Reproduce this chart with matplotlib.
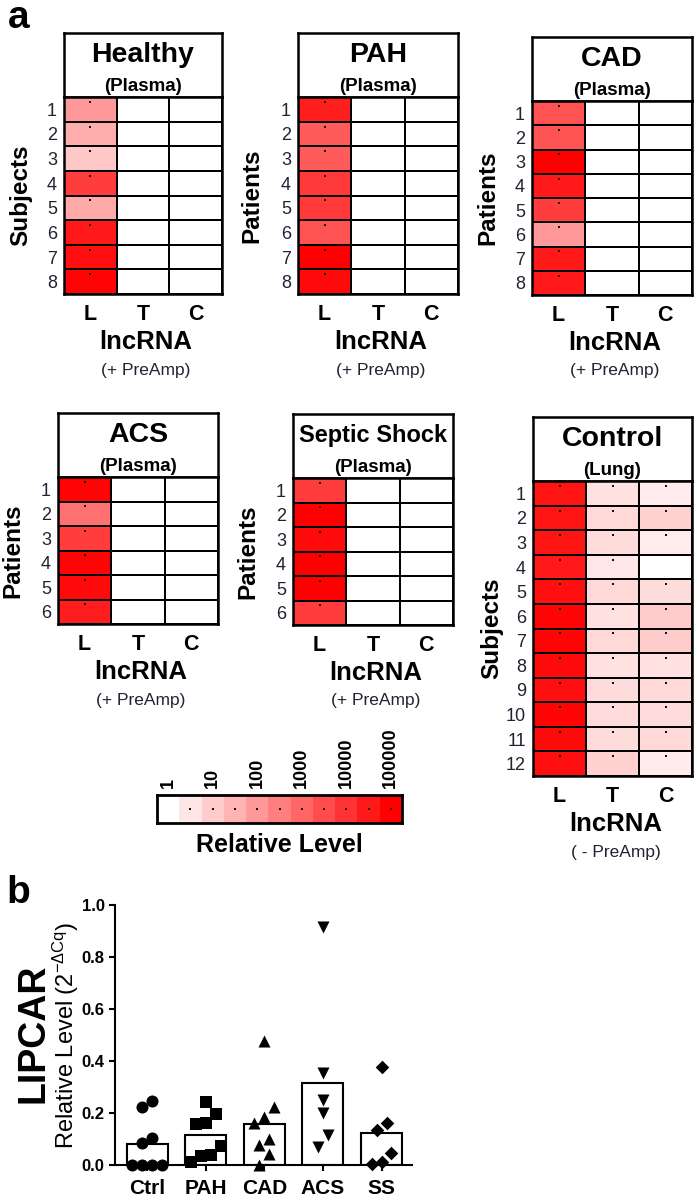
import numpy as np
import matplotlib
matplotlib.use('Agg')
import matplotlib.pyplot as plt
from matplotlib.colors import LinearSegmentedColormap, LogNorm

plt.rcParams['font.family'] = ['Liberation Sans', 'DejaVu Sans']
plt.rcParams['mathtext.fontset'] = 'custom'
plt.rcParams['mathtext.rm'] = 'Liberation Sans'
plt.rcParams['mathtext.it'] = 'Liberation Sans'
plt.rcParams['mathtext.bf'] = 'Liberation Sans:bold'

# ---------------- data: panel a (relative levels, 1 = not detected) ----------------
lnc_cols = ['L', 'T', 'C']

healthy_L = [100, 40, 12, 6300, 50, 32000, 50000, 80000]
healthy_T = [1, 1, 1, 1, 1, 1, 1, 1]
healthy_C = [1, 1, 1, 1, 1, 1, 1, 1]

pah_L = [25000, 1600, 1600, 8000, 8000, 2500, 100000, 63000]
pah_T = [1, 1, 1, 1, 1, 1, 1, 1]
pah_C = [1, 1, 1, 1, 1, 1, 1, 1]

cad_L = [2500, 2500, 100000, 32000, 6300, 100, 32000, 32000]
cad_T = [1, 1, 1, 1, 1, 1, 1, 1]
cad_C = [1, 1, 1, 1, 1, 1, 1, 1]

acs_L = [80000, 630, 6300, 80000, 63000, 25000]
acs_T = [1, 1, 1, 1, 1, 1]
acs_C = [1, 1, 1, 1, 1, 1]

septic_L = [6300, 100000, 63000, 100000, 100000, 6300]
septic_T = [1, 1, 1, 1, 1, 1]
septic_C = [1, 1, 1, 1, 1, 1]

control_L = [40000, 40000, 40000, 32000, 50000, 80000, 80000, 63000, 50000, 80000, 63000, 50000]
control_T = [4, 6, 5, 3, 6, 4, 6, 4, 5, 5, 5, 8]
control_C = [2.5, 8, 2.5, 1, 5, 10, 10, 4, 6, 5, 6, 2.5]

cbar_labels = ['1', '10', '100', '1000', '10000', '100000']

# ---------------- data: panel b ----------------
groups = ['Ctrl', 'PAH', 'CAD', 'ACS', 'SS']
ctrl_vals = [0.222, 0.247, 0.103, 0.086, 0.0, 0.0, 0.0, 0.0]
pah_vals = [0.241, 0.196, 0.160, 0.156, 0.073, 0.038, 0.035, 0.013]
cad_vals = [0.478, 0.222, 0.186, 0.160, 0.099, 0.077, 0.042, 0.0]
acs_vals = [0.914, 0.353, 0.250, 0.201, 0.115, 0.068]
ss_vals = [0.378, 0.163, 0.135, 0.045, 0.013, 0.004]
markers = ['o', 's', '^', 'v', 'D']

# ---------------- figure ----------------
W, H = 697, 1203
fig = plt.figure(figsize=(W / 100, H / 100), dpi=100)


def add_ax(x0, y0, x1, y1):
    return fig.add_axes([x0 / W, 1 - y1 / H, (x1 - x0) / W, (y1 - y0) / H])


def ftext(x, y, s, **kw):
    return fig.text(x / W, 1 - y / H, s, **kw)


cmap = LinearSegmentedColormap.from_list('wr', ['#ffffff', '#ff0000'])
norm = LogNorm(vmin=1, vmax=1e5)


def heat_panel(x0, x1, ttop, tbot, gbot, title, sub, title_fs, ylab, ylab_x,
               cols, preamp):
    tax = add_ax(x0, ttop, x1, tbot)
    tax.set_xticks([])
    tax.set_yticks([])
    for s in tax.spines.values():
        s.set_linewidth(1.8)
    tax.text(0.5, 0.66, title, ha='center', va='center', fontsize=title_fs,
             fontweight='bold', transform=tax.transAxes)
    tax.text(0.5, 0.17, sub, ha='center', va='center', fontsize=13.5,
             fontweight='bold', transform=tax.transAxes)

    gax = add_ax(x0, tbot, x1, gbot)
    data = np.array(cols, dtype=float).T
    n = data.shape[0]
    gax.pcolormesh(np.arange(4), np.arange(n + 1), data, cmap=cmap, norm=norm,
                   edgecolors='k', linewidth=1.1)
    gax.set_xlim(0, 3)
    gax.set_ylim(n, 0)
    rr, cc = np.nonzero(data > 1)
    gax.scatter(cc + 0.5, rr + 0.2, s=3, marker='s', c='#111111', lw=0, zorder=3)
    for s in gax.spines.values():
        s.set_linewidth(1.8)
    gax.set_xticks(np.arange(3) + 0.5)
    gax.set_xticklabels(lnc_cols, fontsize=15.5, fontweight='bold')
    gax.set_yticks(np.arange(n) + 0.5)
    gax.set_yticklabels([str(i + 1) for i in range(n)], fontsize=13,
                        color='#222233')
    gax.tick_params(axis='x', length=0, pad=7)
    gax.tick_params(axis='y', length=0, pad=5)

    xc = (x0 + x1) / 2 + 3
    ftext(xc, gbot + 48, 'lncRNA', fontsize=18.5, fontweight='bold',
          ha='center', va='center')
    ftext(xc, gbot + 76, preamp, fontsize=12.5, ha='center', va='center',
          color='#222233')
    ftext(ylab_x, (tbot + gbot) / 2, ylab, fontsize=17.5, fontweight='bold',
          rotation=90, ha='center', va='center')


heat_panel(64, 222, 33, 97, 294, 'Healthy', '(Plasma)', 20.5, 'Subjects', 21,
           [healthy_L, healthy_T, healthy_C], '(+ PreAmp)')
heat_panel(298, 458, 33, 97, 294, 'PAH', '(Plasma)', 20.5, 'Patients', 252,
           [pah_L, pah_T, pah_C], '(+ PreAmp)')
heat_panel(532, 692, 37, 101, 295, 'CAD', '(Plasma)', 20.5, 'Patients', 488,
           [cad_L, cad_T, cad_C], '(+ PreAmp)')
heat_panel(58, 218, 413, 477, 624, 'ACS', '(Plasma)', 20.5, 'Patients', 13,
           [acs_L, acs_T, acs_C], '(+ PreAmp)')
heat_panel(293, 453, 414, 478, 625, 'Septic Shock', '(Plasma)', 17, 'Patients', 248,
           [septic_L, septic_T, septic_C], '(+ PreAmp)')
heat_panel(533, 692, 417, 481, 776, 'Control', '(Lung)', 20.5, 'Subjects', 492,
           [control_L, control_T, control_C], '( - PreAmp)')

# ---------------- colour scale ----------------
ncell = 2 * (len(cbar_labels) - 1) + 1
levels = 10.0 ** (np.arange(ncell) / 2.0)
cx0, cx1 = 157, 402
cax = add_ax(cx0, 795, cx1, 823)
cax.pcolormesh(np.arange(ncell + 1), [0, 1], levels[None, :], cmap=cmap, norm=norm)
cax.scatter(np.arange(1, ncell) + 0.5, np.full(ncell - 1, 0.5), s=3, marker='s',
            c='#111111', lw=0)
cax.set_xlim(0, ncell)
cax.set_ylim(0, 1)
cax.set_xticks([])
cax.set_yticks([])
for s in cax.spines.values():
    s.set_linewidth(2.0)
cw = (cx1 - cx0) / ncell
for i, lab in enumerate(cbar_labels):
    ftext(cx0 + (2 * i + 0.5) * cw, 788, lab, rotation=90, fontsize=13,
          fontweight='bold', ha='center', va='bottom')
ftext((cx0 + cx1) / 2, 845, 'Relative Level', fontsize=18, fontweight='bold',
      ha='center', va='center')

# ---------------- panel b ----------------
bax = add_ax(115, 905, 412, 1165)
all_vals = [ctrl_vals, pah_vals, cad_vals, acs_vals, ss_vals]
xpos = np.arange(len(groups))
means = [np.mean(v) for v in all_vals]
bax.bar(xpos, means, width=0.7, facecolor='white', edgecolor='k', linewidth=1.5,
        zorder=1)


def swarm_offsets(vals, step=0.17, gap=0.048, span=0.07):
    order = np.argsort(vals)
    sv = np.asarray(vals)[order]
    offs = np.zeros(len(vals))
    groups_idx = []
    cur = [0]
    for i in range(1, len(sv)):
        if sv[i] - sv[i - 1] < gap and sv[i] - sv[cur[0]] <= span:
            cur.append(i)
        else:
            groups_idx.append(cur)
            cur = [i]
    groups_idx.append(cur)
    for g in groups_idx:
        k = len(g)
        for j, i in enumerate(g):
            offs[order[i]] = (j - (k - 1) / 2) * step
    return offs


for i, (vals, mk) in enumerate(zip(all_vals, markers)):
    off = swarm_offsets(vals)
    bax.scatter(xpos[i] + off, vals, marker=mk, s=75 if mk != 'D' else 48,
                c='k', zorder=3, clip_on=False, lw=0)

bax.set_xlim(-0.55, 4.52)
bax.set_ylim(0, 1.0)
bax.spines['top'].set_visible(False)
bax.spines['right'].set_visible(False)
bax.spines['left'].set_linewidth(1.5)
bax.spines['bottom'].set_linewidth(1.5)
bax.set_yticks([0.0, 0.2, 0.4, 0.6, 0.8, 1.0])
bax.set_yticklabels(['%.1f' % t for t in [0.0, 0.2, 0.4, 0.6, 0.8, 1.0]],
                    fontsize=12, fontweight='bold')
bax.set_xticks(xpos)
bax.set_xticklabels(groups, fontsize=15, fontweight='bold')
bax.tick_params(axis='both', width=1.5, length=4, direction='out')
bax.tick_params(axis='x', pad=6)

ftext(33, 1033, 'LIPCAR', rotation=90, fontsize=27, fontweight='bold',
      ha='center', va='center')
ftext(66, 1035, r'Relative Level (2$^{-\Delta Cq}$)', rotation=90, fontsize=17,
      ha='center', va='center')

ftext(19, 18, 'a', fontsize=28, fontweight='bold', ha='center', va='center')
ftext(18, 893, 'b', fontsize=28, fontweight='bold', ha='center', va='center')

fig.savefig('out.png', dpi=100)
